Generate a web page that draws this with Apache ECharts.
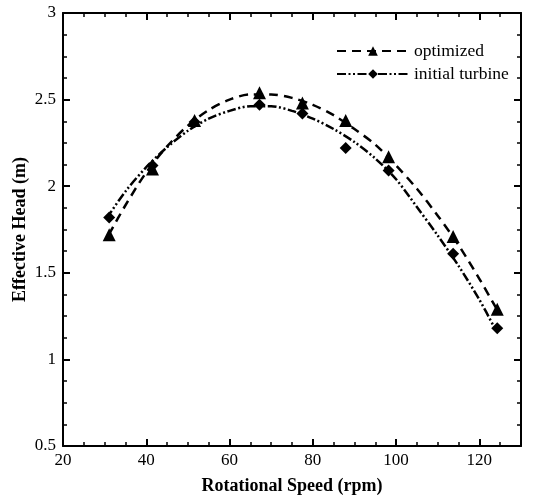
<!DOCTYPE html>
<html>
<head>
<meta charset="utf-8">
<script src="https://cdn.jsdelivr.net/npm/echarts@6/dist/echarts.min.js"></script>
<style>html,body{margin:0;padding:0;background:#fff}#c{width:541px;height:497px}</style>
</head>
<body>
<div id="c"></div>
<script>
const speedMarks = [31.1, 41.5, 51.6, 67.2, 77.5, 87.9, 98.2, 113.7, 124.3];
const headOptimized = [1.72, 2.10, 2.38, 2.54, 2.48, 2.38, 2.17, 1.71, 1.29];
const headInitial = [1.82, 2.12, 2.37, 2.47, 2.42, 2.22, 2.09, 1.61, 1.18];

// Fitted curves
const optCurveX = [31, 35, 40, 45, 50, 55, 60, 65, 70, 75, 80, 85, 90, 95, 100, 105, 110, 115, 120, 124.3];
const optCurveY = [1.72, 1.89, 2.08, 2.23, 2.35, 2.44, 2.50, 2.53, 2.53, 2.51, 2.47, 2.41, 2.33, 2.24, 2.12, 1.985, 1.83, 1.66, 1.465, 1.285];
const initCurveX = [30.5, 35, 40, 45, 50, 55, 60, 65, 70, 75, 80, 85, 90, 95, 100, 105, 110, 115, 120, 123.7];
const initCurveY = [1.815, 1.97, 2.11, 2.225, 2.32, 2.39, 2.435, 2.462, 2.462, 2.435, 2.39, 2.33, 2.255, 2.16, 2.04, 1.88, 1.715, 1.54, 1.345, 1.18];

const seriesNames = ['optimized', 'initial turbine'];
const xAxisTitle = 'Rotational Speed (rpm)';
const yAxisTitle = 'Effective Head (m)';

const zip = (xs, ys) => xs.map((x, i) => [x, ys[i]]);
const FONT = 'Liberation Serif';

const axisCommon = {
  axisLine: { show: true, onZero: false, lineStyle: { color: '#000', width: 2 } },
  axisTick: { show: true, inside: true, length: 7, lineStyle: { color: '#000', width: 2 } },
  minorTick: { show: true, splitNumber: 4, length: 4, lineStyle: { color: '#000', width: 1.5 } },
  splitLine: { show: false },
  minorSplitLine: { show: false }
};

const chart = echarts.init(document.getElementById('c'));
chart.setOption({
  animation: false,
  backgroundColor: '#fff',
  grid: { left: 63, right: 20, top: 13, bottom: 51, containLabel: false, outerBoundsMode: 'none' },
  legend: {
    data: seriesNames,
    orient: 'vertical',
    left: 331,
    top: 37,
    padding: 5,
    itemWidth: 72,
    itemHeight: 12,
    itemGap: 5,
    textStyle: { fontFamily: FONT, fontSize: 17.5, color: '#000' }
  },
  xAxis: [
    Object.assign({
      type: 'value', min: 20, max: 130, interval: 20, position: 'bottom',
      name: xAxisTitle, nameLocation: 'middle', nameGap: 31, nameMoveOverlap: false,
      nameTextStyle: { fontFamily: FONT, fontSize: 18, fontWeight: 'bold', color: '#000' },
      axisLabel: { fontFamily: FONT, fontSize: 17, color: '#000', margin: 6,
        formatter: v => (v > 125 ? '' : String(v)) }
    }, axisCommon),
    Object.assign({
      type: 'value', min: 20, max: 130, interval: 20, position: 'top',
      axisLabel: { show: false }
    }, axisCommon)
  ],
  yAxis: [
    Object.assign({
      type: 'value', min: 0.5, max: 3, interval: 0.5, position: 'left',
      name: yAxisTitle, nameLocation: 'middle', nameGap: 34, nameMoveOverlap: false,
      nameTextStyle: { fontFamily: FONT, fontSize: 18, fontWeight: 'bold', color: '#000' },
      axisLabel: { fontFamily: FONT, fontSize: 17, color: '#000', margin: 7 }
    }, axisCommon),
    Object.assign({
      type: 'value', min: 0.5, max: 3, interval: 0.5, position: 'right',
      axisLabel: { show: false }
    }, axisCommon)
  ],
  series: [
    {
      name: 'optimized', type: 'line', data: zip(optCurveX, optCurveY),
      smooth: 0.3, symbol: 'triangle', symbolSize: 12, showSymbol: false,
      itemStyle: { color: '#000' },
      lineStyle: { color: '#000', width: 2.5, type: [9, 6] },
      z: 3
    },
    {
      name: 'initial turbine', type: 'line', data: zip(initCurveX, initCurveY),
      smooth: 0.3, symbol: 'diamond', symbolSize: 12, showSymbol: false,
      itemStyle: { color: '#000' },
      lineStyle: { color: '#000', width: 2.5, type: [9, 2.5, 2, 2.5, 2, 2.5] },
      z: 3
    },
    {
      name: 'optimized-pts', type: 'scatter', data: zip(speedMarks, headOptimized),
      symbol: 'triangle', symbolSize: 13, itemStyle: { color: '#000', opacity: 1 }, z: 4
    },
    {
      name: 'initial-pts', type: 'scatter', data: zip(speedMarks, headInitial),
      symbol: 'diamond', symbolSize: 12, itemStyle: { color: '#000', opacity: 1 }, z: 4
    }
  ]
});
</script>
</body>
</html>
